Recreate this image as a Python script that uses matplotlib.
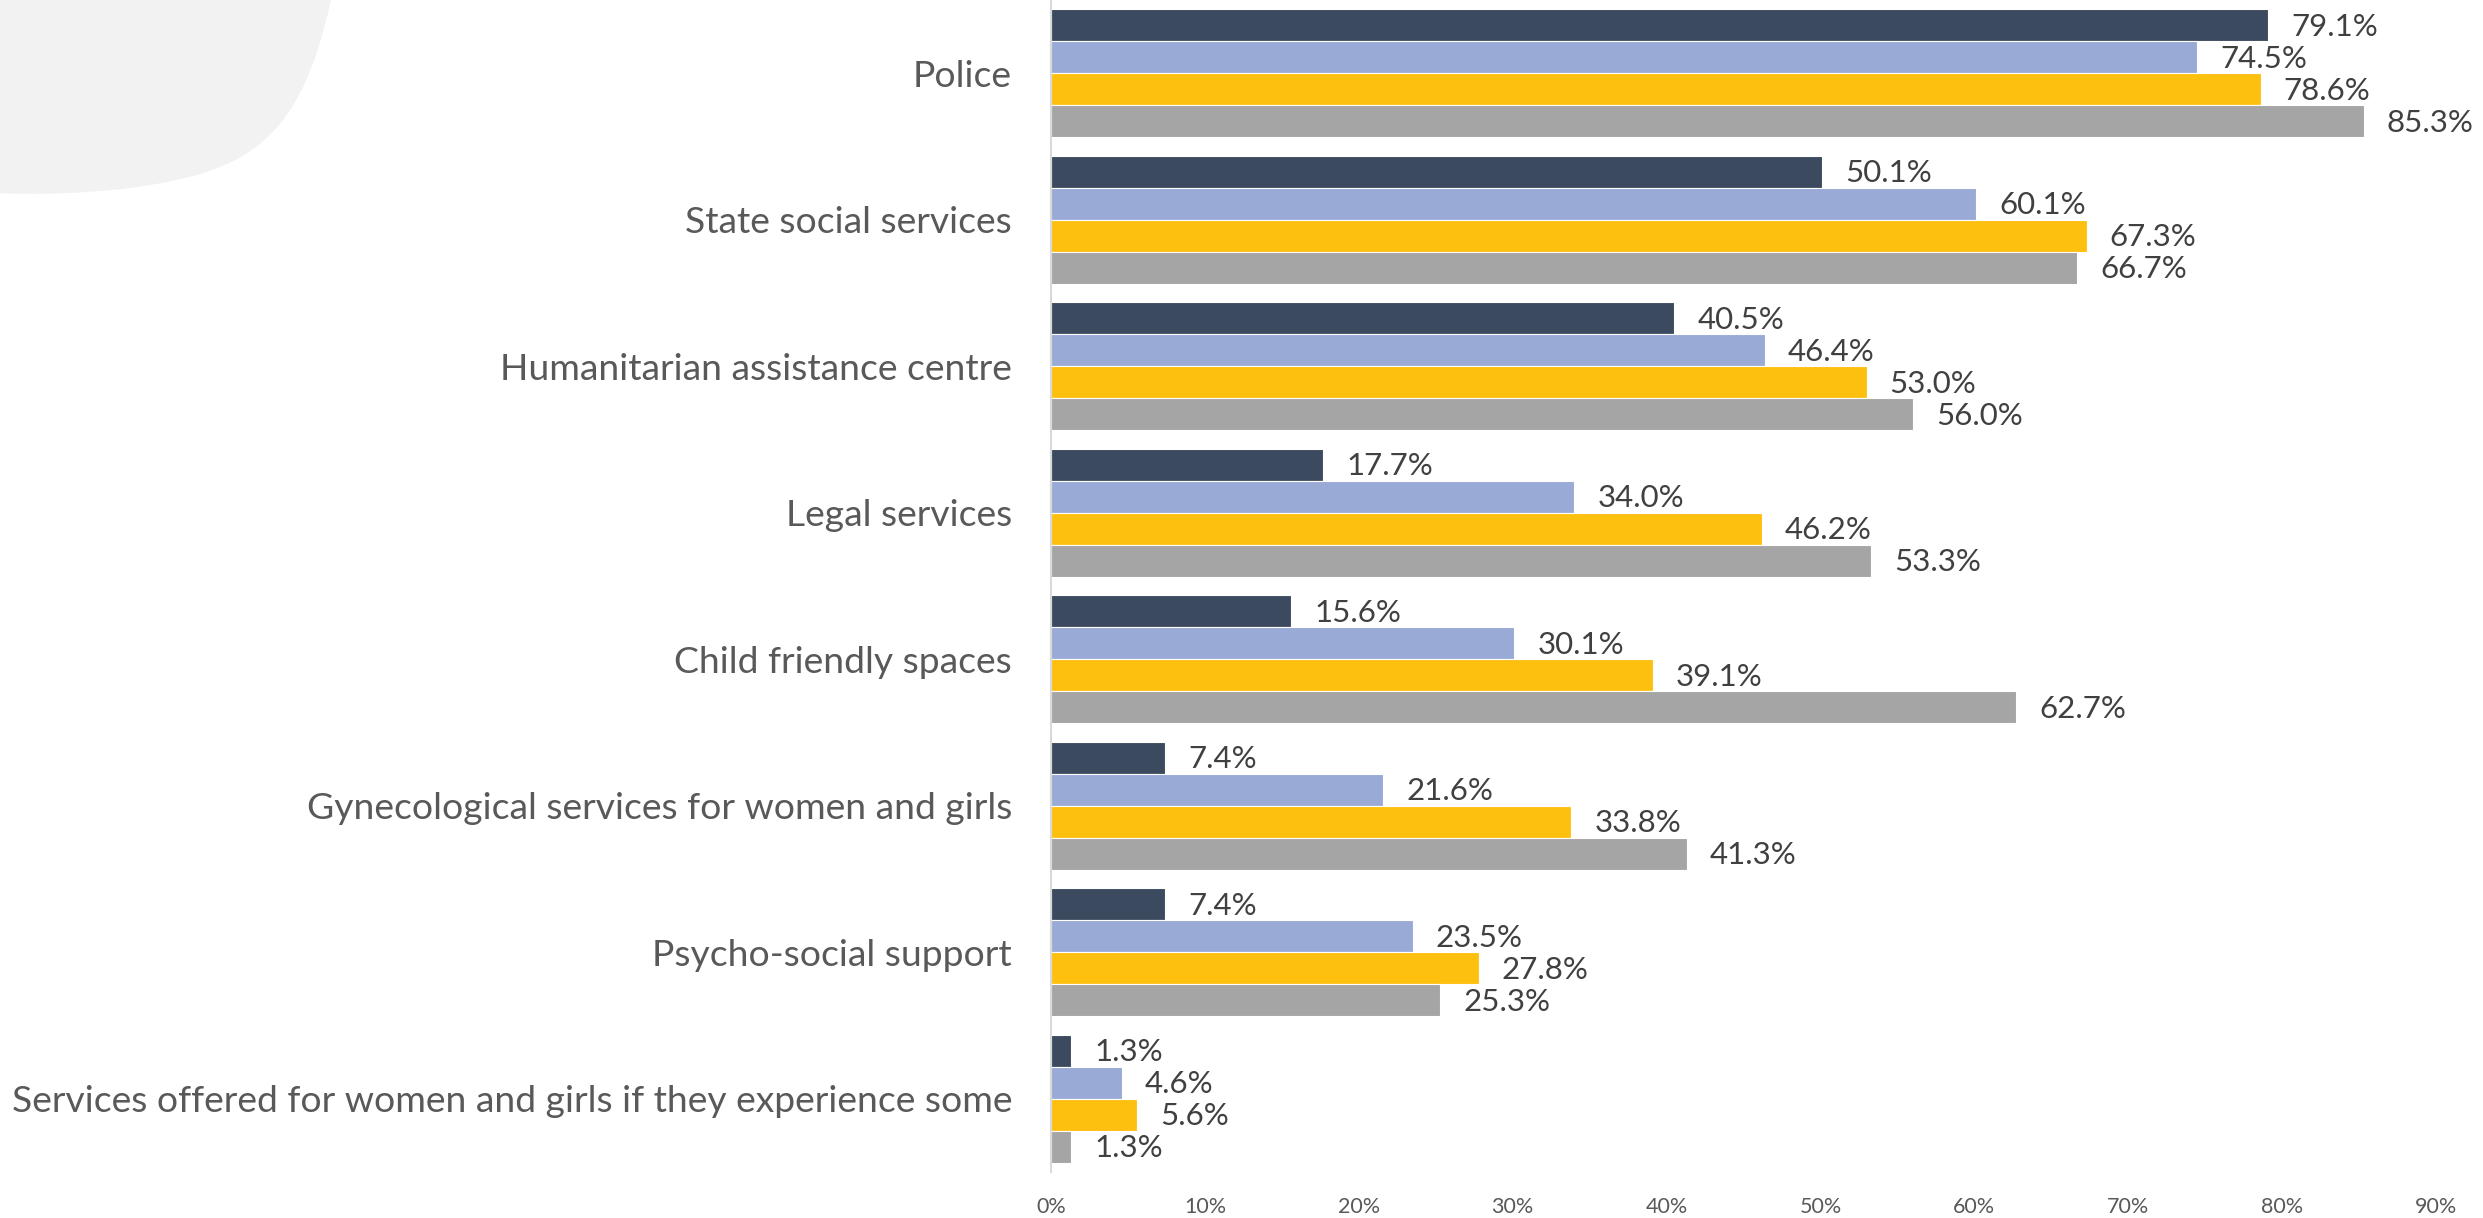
import matplotlib.pyplot as plt
from matplotlib.path import Path
from matplotlib.patches import PathPatch
import numpy as np

# Data
categories = [
    "Police",
    "State social services",
    "Humanitarian assistance centre",
    "Legal services",
    "Child friendly spaces",
    "Gynecological services for women and girls",
    "Psycho-social support",
    "Services offered for women and girls if they experience some",
]
series_1 = [79.1, 50.1, 40.5, 17.7, 15.6, 7.4, 7.4, 1.3]
series_2 = [74.5, 60.1, 46.4, 34.0, 30.1, 21.6, 23.5, 4.6]
series_3 = [78.6, 67.3, 53.0, 46.2, 39.1, 33.8, 27.8, 5.6]
series_4 = [85.3, 66.7, 56.0, 53.3, 62.7, 41.3, 25.3, 1.3]
x_ticks = [0, 10, 20, 30, 40, 50, 60, 70, 80, 90]

colors = ["#3B4A5E", "#99AAD6", "#FEC00F", "#A5A5A5"]

plt.rcParams['font.family'] = ['Lato', 'DejaVu Sans']

W, H = 2483, 1218
fig = plt.figure(figsize=(W / 100, H / 100), dpi=100)

# Decorative grey blob in the top-left corner (pixel coords -> figure fraction)
pts = [(0, 0), (331, 0), (300, 140), (250, 172), (130, 188),
       (80, 194), (30, 195), (0, 193), (0, 0)]
codes = [Path.MOVETO, Path.LINETO, Path.CURVE4, Path.CURVE4, Path.CURVE4,
         Path.CURVE4, Path.CURVE4, Path.CURVE4, Path.CLOSEPOLY]
verts = [(x / W, 1 - y / H) for x, y in pts]
fig.patches.append(PathPatch(Path(verts, codes), facecolor="#F2F2F2",
                             edgecolor="none", transform=fig.transFigure, zorder=0))

ax = fig.add_axes([1051 / W, 1 - 1172 / H, (2436 - 1051) / W, 1172 / H])
ax.patch.set_alpha(0)

y = np.arange(len(categories))
h = 0.218
for j, vals in enumerate([series_1, series_2, series_3, series_4]):
    pos = y + (j - 1.5) * h
    bars = ax.barh(pos, vals, height=h, color=colors[j], edgecolor="white", linewidth=0.8)
    for b, v in zip(bars, vals):
        ax.text(v + 1.5, b.get_y() + b.get_height() / 2 + 0.01, f"{v:.1f}%",
                va="center", ha="left", fontsize=22.5, color="#404040")

ax.set_xlim(0, 90)
ax.set_ylim(len(categories) - 0.5, -0.5)
ax.set_xticks(x_ticks)
ax.set_xticklabels([f"{t}%" for t in x_ticks], fontsize=15.5, color="#595959")
ax.set_yticks(y)
ax.set_yticklabels(categories, fontsize=26.8, color="#595959")
ax.tick_params(axis="y", length=0, pad=28)
ax.tick_params(axis="x", length=0, pad=18)

for s in ["top", "right", "bottom"]:
    ax.spines[s].set_visible(False)
ax.spines["left"].set_color("#D9D9D9")
ax.spines["left"].set_linewidth(1.5)

fig.savefig("out.png", dpi=100)
